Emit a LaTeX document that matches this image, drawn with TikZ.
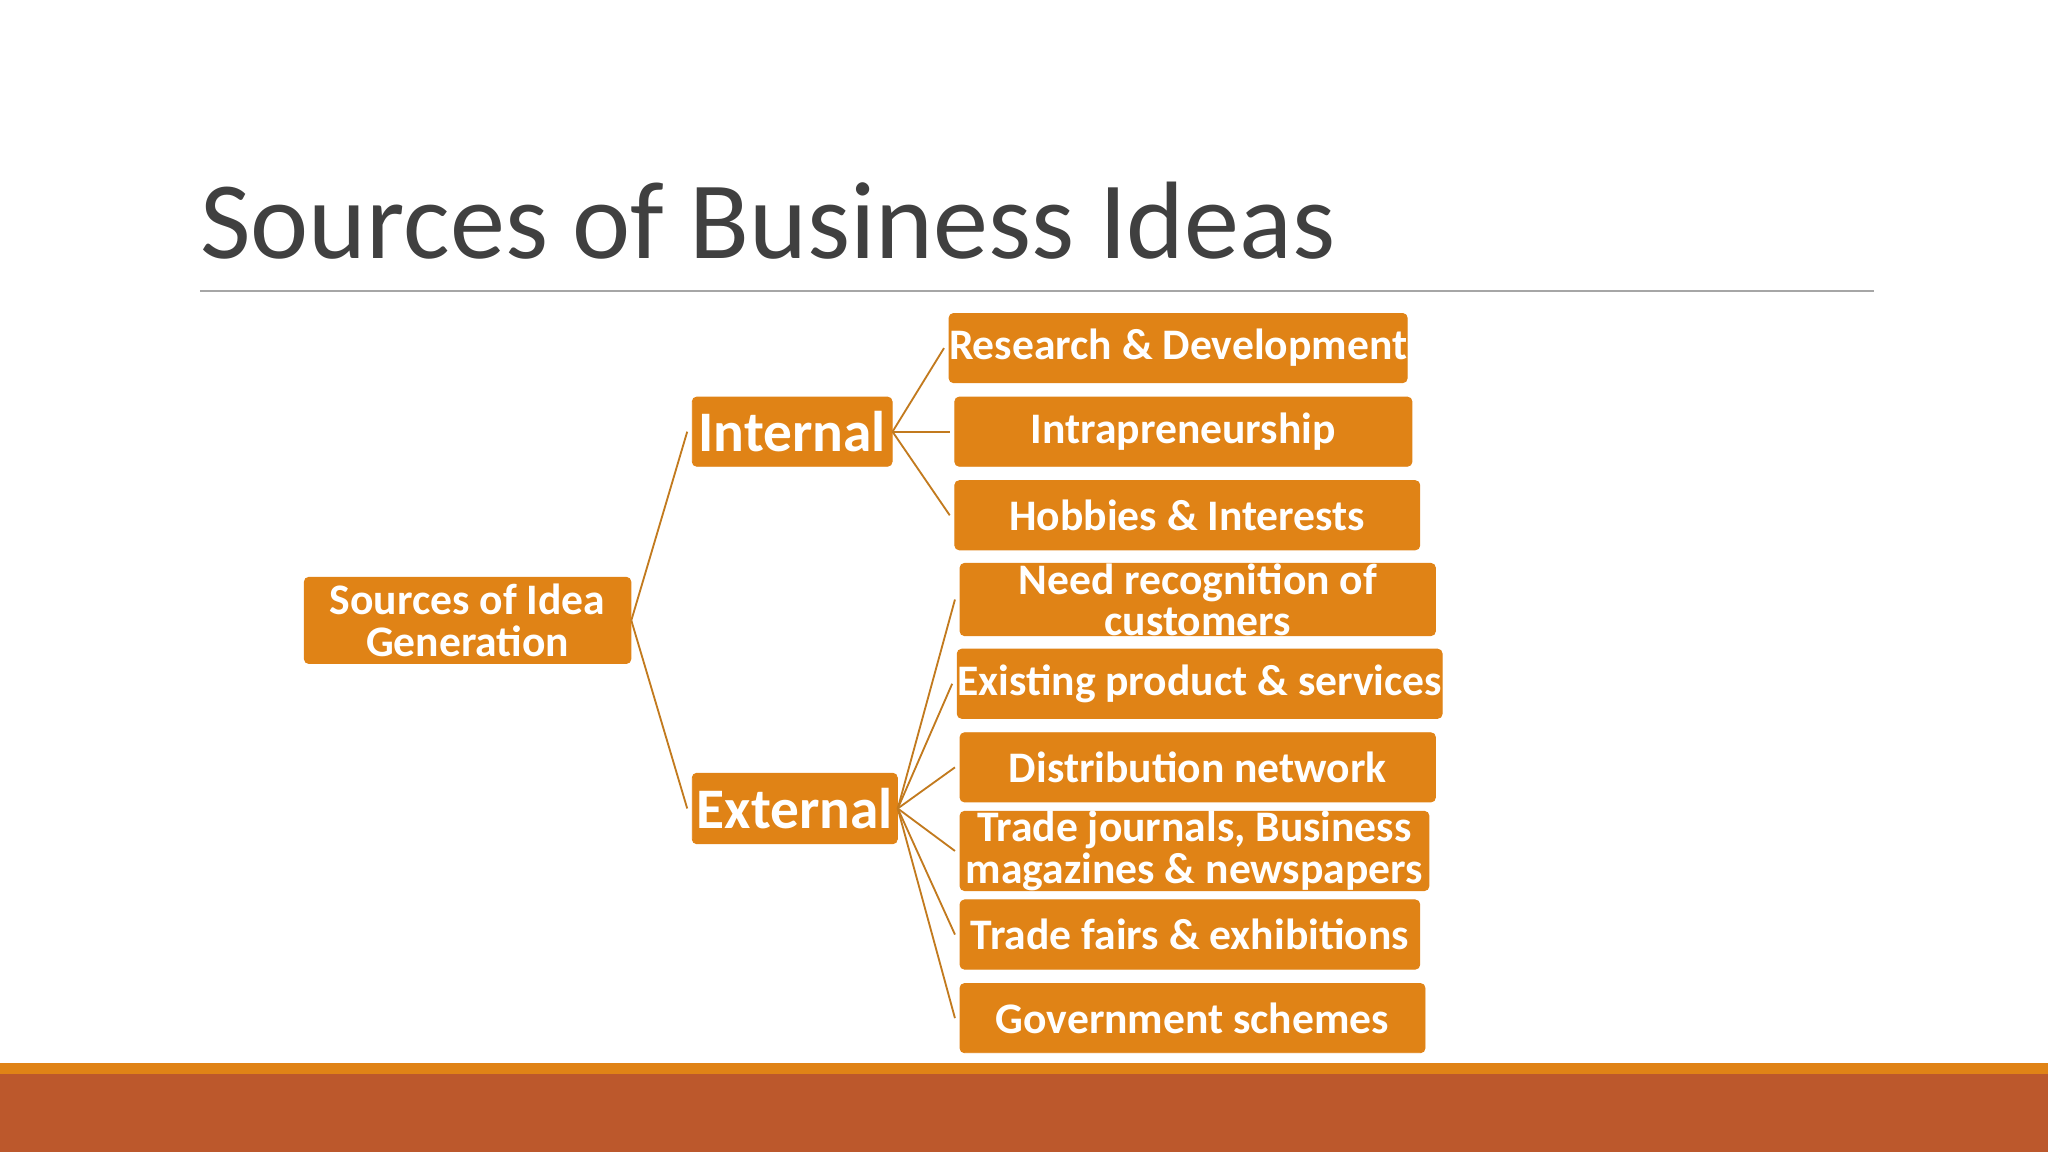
\documentclass[tikz,border=0pt]{standalone}
\usepackage{fontspec}
\setmainfont{Carlito}
\definecolor{boxor}{HTML}{E08316}
\definecolor{linec}{HTML}{C27A1E}
\definecolor{bar1}{HTML}{E08316}
\definecolor{bar2}{HTML}{BC582C}
\definecolor{titlec}{HTML}{404040}
\begin{document}
\begin{tikzpicture}[x=0.02cm,y=-0.02cm,
 bx/.style={fill=boxor,draw=boxor,rounded corners=2pt,text=white,font=\bfseries\fontsize{19}{18}\selectfont,align=center,inner sep=0pt},
 conn/.style={draw=linec,line width=0.8pt}]
\useasboundingbox (0,0) rectangle (1568,882);
\fill[bar1] (0,814) rectangle (1568,823);
\fill[bar2] (0,822) rectangle (1568,882);
\node[anchor=base west,text=titlec,font=\fontsize{48}{48}\selectfont,inner sep=0pt] (title) at (153,198) {Sources of Business Ideas};
\draw[gray!70,line width=0.8pt] (153,223) -- (1435,223);
\newcommand\bxat[6]{\node[bx,minimum width={(#3-#2)*0.02cm},minimum height={(#5-#4)*0.02cm}] (#1) at ({(#2+#3)/2},{(#4+#5)/2}) {#6};}
\bxat{root}{233}{483}{442}{508}{Sources of Idea\\Generation}
\node[bx,font=\bfseries\fontsize{25}{25}\selectfont,minimum width=3.06cm,minimum height=1.06cm] (int) at (606.5,330.5) {Internal};
\node[bx,font=\bfseries\fontsize{25}{25}\selectfont,minimum width=3.14cm,minimum height=1.08cm] (ext) at (608.5,619) {External};
\bxat{a1}{731}{1073}{240}{293}{Research \& Development}
\bxat{a2}{731}{1081}{304}{357}{Intrapreneurship}
\bxat{a3}{731}{1087}{368}{421}{Hobbies \& Interests}
\bxat{b1}{735}{1099}{432}{486}{Need recognition of\\customers}
\bxat{b2}{735}{1102}{497}{550}{Existing product \& services}
\bxat{b3}{735}{1099}{561}{614}{Distribution network}
\bxat{b4}{735}{1094}{625}{678}{Trade journals, Business\\magazines \& newspapers}
\bxat{b5}{735}{1087}{689}{742}{Trade fairs \& exhibitions}
\bxat{b6}{735}{1091}{753}{806}{Government schemes}
\foreach \t in {int,ext} \draw[conn] (root.east) -- ([xshift=-2]\t.west);
\foreach \t in {a1,a2,a3} \draw[conn] (int.east) -- ([xshift=-2]\t.west);
\foreach \t in {b1,b2,b3,b4,b5,b6} \draw[conn] (ext.east) -- ([xshift=-2]\t.west);
\end{tikzpicture}
\end{document}
